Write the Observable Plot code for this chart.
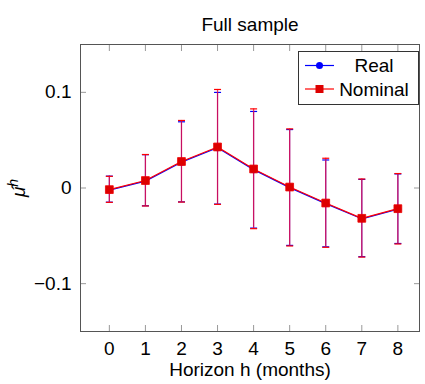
<!DOCTYPE html>
<html>
<head>
<meta charset="utf-8">
<script src="https://cdn.jsdelivr.net/npm/d3@7"></script>
<script src="https://cdn.jsdelivr.net/npm/@observablehq/plot@0.6"></script>
<style>
  html, body { margin: 0; padding: 0; background: #fff; }
  #chart svg { display: block; }
</style>
</head>
<body>
<div id="chart"></div>
<script>
// ---- data ----
const titleText = "Full sample";
const xLabel = "Horizon h (months)";
const horizons = [0, 1, 2, 3, 4, 5, 6, 7, 8];
const yTicks = [-0.1, 0, 0.1];
const seriesNames = ["Real", "Nominal"];

const realMean  = [-0.0022, 0.0072, 0.0270, 0.0421, 0.0192, 0.0004, -0.0163, -0.0322, -0.0221];
const realLow   = [-0.0148, -0.0186, -0.0145, -0.0168, -0.0419, -0.0600, -0.0615, -0.0718, -0.0580];
const realHigh  = [0.0124, 0.0348, 0.0692, 0.0999, 0.0800, 0.0611, 0.0293, 0.0090, 0.0147];

const nomMean   = [-0.0017, 0.0078, 0.0277, 0.0429, 0.0199, 0.0010, -0.0157, -0.0317, -0.0216];
const nomLow    = [-0.0150, -0.0188, -0.0147, -0.0171, -0.0425, -0.0606, -0.0620, -0.0722, -0.0585];
const nomHigh   = [0.0122, 0.0350, 0.0706, 0.1030, 0.0827, 0.0618, 0.0311, 0.0094, 0.0151];

const real = horizons.map((h, i) => ({h, m: realMean[i], lo: realLow[i], hi: realHigh[i]}));
const nominal = horizons.map((h, i) => ({h, m: nomMean[i], lo: nomLow[i], hi: nomHigh[i]}));

const BLUE = "#0000ff", RED = "#ff0000";
const FONT = "'Liberation Sans', Arial, Helvetica, sans-serif";
const FS = 19;

// horizontal cap symbol
const capSymbol = { draw(ctx) { ctx.moveTo(-3.5, 0); ctx.lineTo(3.5, 0); } };

const svg = Plot.plot({
  width: 425,
  height: 384,
  marginLeft: 80,
  marginRight: 6,
  marginTop: 44,
  marginBottom: 53,
  style: { fontFamily: FONT, fontSize: FS + "px", background: "#fff", color: "#000" },
  x: { domain: [-0.8, 8.6] },
  y: { domain: [-0.15, 0.15] },
  marks: [
    Plot.axisX({ticks: horizons, tickSize: 0, tickPadding: 10, tickFormat: d3.format("d"), fontSize: FS, label: null}),
    Plot.axisX({ticks: horizons, anchor: "bottom", tickSize: -6, text: null, stroke: "#999", label: null}),
    Plot.axisX({ticks: horizons, anchor: "top", tickSize: -6, text: null, stroke: "#999", label: null}),
    Plot.axisY({ticks: yTicks, tickSize: 0, tickPadding: 9, tickFormat: d => d === 0 ? "0" : (d < 0 ? "\u2212" + Math.abs(d) : String(d)), fontSize: FS, label: null}),
    Plot.axisY({ticks: yTicks, anchor: "left", tickSize: -6, text: null, stroke: "#999", label: null}),
    Plot.axisY({ticks: yTicks, anchor: "right", tickSize: -6, text: null, stroke: "#999", label: null}),
    Plot.frame({stroke: "#555"}),
    // Real series
    Plot.ruleX(real, {x: "h", y1: "lo", y2: "hi", stroke: BLUE, strokeWidth: 1}),
    Plot.dot(real, {x: "h", y: "lo", symbol: capSymbol, stroke: BLUE, strokeWidth: 1.2, r: 4}),
    Plot.dot(real, {x: "h", y: "hi", symbol: capSymbol, stroke: BLUE, strokeWidth: 1.2, r: 4}),
    Plot.line(real, {x: "h", y: "m", stroke: BLUE, strokeWidth: 1.2}),
    Plot.dot(real, {x: "h", y: "m", symbol: "circle", fill: BLUE, r: 3.5}),
    // Nominal series
    Plot.ruleX(nominal, {x: "h", y1: "lo", y2: "hi", stroke: "#f01040", strokeWidth: 1.3, strokeOpacity: 0.82}),
    Plot.dot(nominal, {x: "h", y: "lo", symbol: capSymbol, stroke: RED, strokeWidth: 1.2, r: 4}),
    Plot.dot(nominal, {x: "h", y: "hi", symbol: capSymbol, stroke: RED, strokeWidth: 1.2, r: 4}),
    Plot.line(nominal, {x: "h", y: "m", stroke: RED, strokeWidth: 1.2}),
    Plot.dot(nominal, {x: "h", y: "m", symbol: "square", fill: "#dd0000", stroke: "#ee0000", strokeWidth: 0.8, r: 4.4}),
    // title and x label
    Plot.text([titleText], {frameAnchor: "top", dy: -27.5, fontSize: FS, fill: "#000"}),
    Plot.text([xLabel], {frameAnchor: "bottom", dy: 44, fontSize: FS, fill: "#000"})
  ]
});

document.getElementById("chart").appendChild(svg);

// y-axis label (italic mu-hat with superscript h)
const s = d3.select(svg);
const yl = s.append("text")
  .attr("transform", "translate(25,188) rotate(-90)")
  .attr("text-anchor", "middle")
  .attr("font-family", FONT)
  .attr("font-size", FS)
  .attr("font-style", "italic")
  .attr("fill", "#000");
yl.append("tspan").text("\u03BC\u0302");
yl.append("tspan").attr("dy", -7).attr("font-size", 14).text("h");

// legend
const lg = s.append("g");
lg.append("rect").attr("x", 298.5).attr("y", 51.5).attr("width", 120).attr("height", 53)
  .attr("fill", "#fff").attr("stroke", "#333").attr("stroke-width", 1);
const rows = [
  {name: seriesNames[0], color: BLUE, y: 65.5, sym: "circle"},
  {name: seriesNames[1], color: RED, y: 89, sym: "square"}
];
rows.forEach(r => {
  lg.append("line").attr("x1", 305).attr("x2", 334).attr("y1", r.y).attr("y2", r.y)
    .attr("stroke", r.color).attr("stroke-width", 1.2);
  if (r.sym === "circle") {
    lg.append("circle").attr("cx", 319.5).attr("cy", r.y).attr("r", 3.5).attr("fill", r.color);
  } else {
    lg.append("rect").attr("x", 315.5).attr("y", r.y - 4).attr("width", 8).attr("height", 8).attr("fill", "#dd0000");
  }
  lg.append("text").attr("x", 374).attr("y", r.y).attr("dy", "0.35em").attr("text-anchor", "middle")
    .attr("font-family", FONT).attr("font-size", FS).attr("fill", "#000").text(r.name);
});
</script>
</body>
</html>
